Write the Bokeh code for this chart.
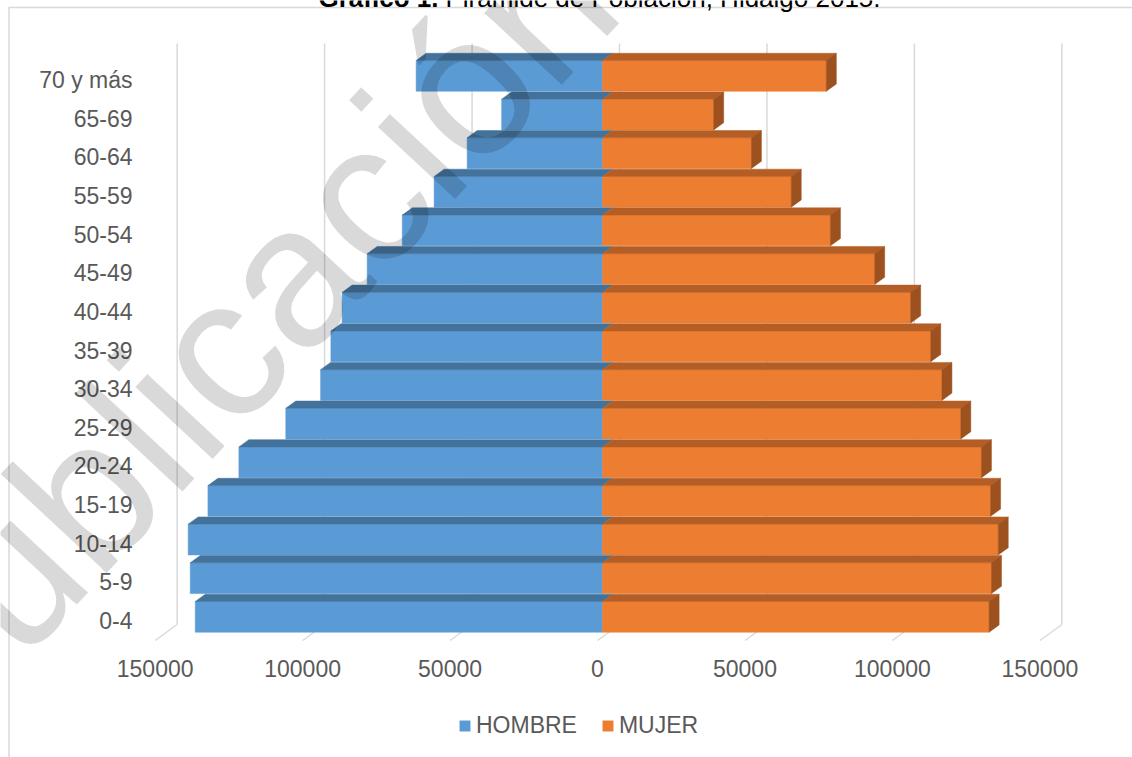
import math

from bokeh.core.properties import value
from bokeh.embed import file_html
from bokeh.models import ColumnDataSource, Legend, LegendItem, Range1d
from bokeh.plotting import figure
from bokeh.resources import INLINE

# ---------------------------------------------------------------- data
age_groups = ["0-4", "5-9", "10-14", "15-19", "20-24", "25-29", "30-34",
              "35-39", "40-44", "45-49", "50-54", "55-59", "60-64", "65-69",
              "70 y más"]
hombre = [138100, 139800, 140500, 133800, 123300, 107400, 95600, 92100,
          88300, 79800, 67900, 57100, 45900, 34200, 63200]
mujer = [131100, 131900, 134200, 131600, 128500, 121500, 115100, 111300,
         104500, 92300, 77300, 64000, 50500, 37700, 75900]
series_names = ["HOMBRE", "MUJER"]
x_ticks = [-150000, -100000, -50000, 0, 50000, 100000, 150000]
x_tick_labels = ["150000", "100000", "50000", "0", "50000", "100000", "150000"]
title_bold = "Gráfico 1."
title_rest = "Pirámide de Población, Hidalgo 2015."
watermark = "Publicación"

# ---------------------------------------------------------------- geometry
W, H = 1132, 757
X0_PX = 597.0                 # pixel column of value 0 on the front plane
PX_PER_UNIT = 147.45 / 50000  # horizontal pixels per person
Y0_PX = 620.0                 # pixel row of the first age group (front plane)
PX_PER_CAT = 38.64            # pixels between age groups


def xd(px):
    return (px - X0_PX) / PX_PER_UNIT


def yd(py):
    return (Y0_PX - py) / PX_PER_CAT


def lx(px):
    return px / PX_PER_UNIT


def ly(px):
    return px / PX_PER_CAT


# oblique projection: full depth moves 22 px right and 16 px up
DEPTH_X = lx(22)
DEPTH_Y = ly(16)
FLOOR = yd(640)
WALL_TOP = yd(59)
D0, D1 = 5 / 22, 15 / 22      # front and back of the bars
BAR_H = 0.795

FONT = value("Liberation Sans")
GREY_TEXT = "#595959"
GRID = "#d9d9d9"

BLUE, BLUE_TOP = "#5b9bd5", "#43729d"
ORANGE, ORANGE_TOP, ORANGE_SIDE = "#ed7d31", "#b45e25", "#9c511f"

MID = 0.347   # distance from baseline to the middle of the em box, in em


def at(x, y, d):
    return x + d * DEPTH_X, y + d * DEPTH_Y


p = figure(width=W, height=H,
           x_range=Range1d(xd(0), xd(W)), y_range=Range1d(yd(H), yd(0)),
           output_backend="svg", toolbar_location=None,
           x_axis_type=None, y_axis_type=None,
           min_border=0, outline_line_color=None,
           background_fill_color="white", border_fill_color="white")

# chart area border (left and top edges)
p.multi_line(xs=[[xd(8.5), xd(8.5)], [xd(8), xd(W)]],
             ys=[[yd(7), yd(H)], [yd(7), yd(7)]],
             line_color=GRID, line_width=1.5)

# back wall gridlines and their floor continuations
grid_xs, grid_ys = [], []
for v in x_ticks:
    bx, by0 = at(v, FLOOR, 1.0)
    _, by1 = at(v, WALL_TOP, 1.0)
    grid_xs.append([bx, bx])
    grid_ys.append([by0, by1])
    grid_xs.append([v, bx])
    grid_ys.append([FLOOR, by0])
p.multi_line(xs=grid_xs, ys=grid_ys, line_color=GRID, line_width=1.5)

# bars: front faces
ys = list(range(len(age_groups)))
yc = [y + D0 * DEPTH_Y for y in ys]
x_zero = D0 * DEPTH_X
src_m = ColumnDataSource(dict(y=yc, left=[x_zero - m for m in hombre],
                              right=[x_zero] * len(ys)))
src_f = ColumnDataSource(dict(y=yc, left=[x_zero] * len(ys),
                              right=[x_zero + f for f in mujer]))
r_m = p.hbar(y="y", left="left", right="right", height=BAR_H, source=src_m,
             fill_color=BLUE, line_color=BLUE, line_width=0.5)
r_f = p.hbar(y="y", left="left", right="right", height=BAR_H, source=src_f,
             fill_color=ORANGE, line_color=ORANGE, line_width=0.5)


def top_face(x_a, x_b, y):
    top = y + BAR_H / 2
    pts = [at(x_a, top, D0), at(x_b, top, D0), at(x_b, top, D1), at(x_a, top, D1)]
    return [q[0] for q in pts], [q[1] for q in pts]


def side_face(x, y):
    top, bot = y + BAR_H / 2, y - BAR_H / 2
    pts = [at(x, bot, D0), at(x, top, D0), at(x, top, D1), at(x, bot, D1)]
    return [q[0] for q in pts], [q[1] for q in pts]


tm_x, tm_y, tf_x, tf_y, sf_x, sf_y = [], [], [], [], [], []
for y, m, f in zip(ys, hombre, mujer):
    a, b = top_face(-m, 0, y)
    tm_x.append(a)
    tm_y.append(b)
    a, b = top_face(0, f, y)
    tf_x.append(a)
    tf_y.append(b)
    a, b = side_face(f, y)
    sf_x.append(a)
    sf_y.append(b)

p.patches(xs=tm_x, ys=tm_y, fill_color=BLUE_TOP, line_color=BLUE_TOP, line_width=0.5)
p.patches(xs=tf_x, ys=tf_y, fill_color=ORANGE_TOP, line_color=ORANGE_TOP, line_width=0.5)
p.patches(xs=sf_x, ys=sf_y, fill_color=ORANGE_SIDE, line_color=ORANGE_SIDE, line_width=0.5)

# category labels
p.text(x=[xd(132)] * len(ys), y=ys, text=age_groups, text_font=FONT,
       text_font_size="23px", text_color=GREY_TEXT, text_align="right",
       text_baseline="middle")

# value labels along the floor
p.text(x=x_ticks, y=[yd(668)] * len(x_ticks), text=x_tick_labels, text_font=FONT,
       text_font_size="23px", text_color=GREY_TEXT, text_align="center",
       text_baseline="middle")

# title (its upper part runs past the top edge)
TITLE_BASE = 6.5
title_mid = yd(TITLE_BASE - MID * 26)
p.text(x=[xd(318)], y=[title_mid], text=[title_bold], text_font=FONT,
       text_font_size="26px", text_font_style="bold", text_color="#000000",
       text_align="left", text_baseline="middle")
p.text(x=[xd(445)], y=[title_mid], text=[title_rest], text_font=FONT,
       text_font_size="26px", text_color="#000000",
       text_align="left", text_baseline="middle")

# watermark across the chart, baseline starting below-left of the canvas
WM_SIZE = 200
WM_ANGLE = math.radians(47)
wm_base = (-70.0, 761.0)
wm_px = wm_base[0] - math.sin(WM_ANGLE) * MID * WM_SIZE
wm_py = wm_base[1] - math.cos(WM_ANGLE) * MID * WM_SIZE
p.text(x=[xd(wm_px)], y=[yd(wm_py)], text=[watermark], text_font=FONT,
       text_font_size=f"{WM_SIZE}px", angle=WM_ANGLE, text_color="#000000",
       text_alpha=0.15, text_align="left", text_baseline="middle")

legend = Legend(items=[LegendItem(label=series_names[0], renderers=[r_m]),
                       LegendItem(label=series_names[1], renderers=[r_f])],
                orientation="horizontal", location=(458, 18),
                border_line_color=None, background_fill_alpha=0,
                label_text_font="Liberation Sans", label_text_font_size="23px",
                label_text_color=GREY_TEXT, glyph_width=13, glyph_height=13,
                padding=0, margin=0, spacing=24, label_standoff=5)
p.add_layout(legend)

open("out.html", "w").write(file_html(p, INLINE))
